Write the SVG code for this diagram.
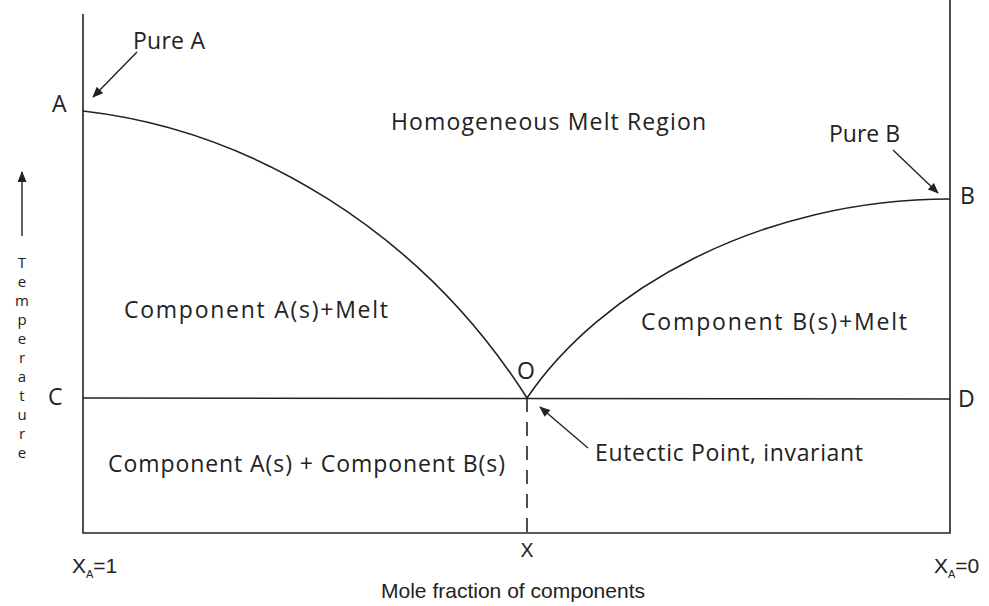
<svg xmlns="http://www.w3.org/2000/svg" width="989" height="606" viewBox="0 0 989 606">
<defs>
<marker id="ah" viewBox="0 0 12 10" refX="11" refY="5" markerWidth="12" markerHeight="9" markerUnits="userSpaceOnUse" orient="auto">
<path d="M0,0 L12,5 L0,10 z" fill="#222"/>
</marker>
<style>
.ln{stroke:#222;stroke-width:1.6;fill:none}
.ar{stroke:#222;stroke-width:1.4;fill:none;marker-end:url(#ah)}
.t{font-family:"Open Sans","Liberation Sans",sans-serif;font-size:23px;fill:#222}
.c{font-family:"Liberation Sans","Open Sans",sans-serif;font-size:21px;fill:#222}
.v{font-family:"Open Sans","Liberation Sans",sans-serif;font-size:15px;fill:#222;text-anchor:middle}
</style>
</defs>
<rect width="989" height="606" fill="#fff"/>
<g id="axes">
<path class="ln" d="M83,14 V533 H950 V0"/>
</g>
<g id="connectors">
<path class="ln" d="M83,111 C250,130 420,230 527,398"/>
<path class="ln" d="M527,398 C600,290 760,199 950,199"/>
<path class="ln" d="M83,398 L950,399"/>
<path class="ln" d="M527,398 V533" stroke-dasharray="14,10"/>
<path class="ar" d="M137,52 L93,97"/>
<path class="ar" d="M893,150 L938,193"/>
<path class="ar" d="M588,448 L540,407"/>
<path class="ar" d="M22,236 V172"/>
</g>
<g id="labels">
<text class="t" x="52" y="112" textLength="15">A</text>
<text class="t" x="133" y="49" textLength="72">Pure A</text>
<text class="t" x="391" y="130" textLength="315">Homogeneous Melt Region</text>
<text class="t" x="829" y="142" textLength="71">Pure B</text>
<text class="t" x="960" y="204" textLength="13">B</text>
<text class="t" x="124" y="318" textLength="264">Component A(s)+Melt</text>
<text class="t" x="641" y="330" textLength="266">Component B(s)+Melt</text>
<text class="t" x="517" y="379">O</text>
<text class="t" x="48" y="405">C</text>
<text class="t" x="958" y="407">D</text>
<text class="t" x="108" y="472" textLength="397">Component A(s) + Component B(s)</text>
<text class="t" x="595" y="461" textLength="268">Eutectic Point, invariant</text>
<text class="c" x="527" y="557" text-anchor="middle" textLength="13" lengthAdjust="spacingAndGlyphs">X</text>
<text class="c" x="72" y="573">X<tspan font-size="11" dy="5">A</tspan><tspan dy="-5">=1</tspan></text>
<text class="c" x="934" y="573">X<tspan font-size="11" dy="5">A</tspan><tspan dy="-5">=0</tspan></text>
<text class="c" x="381" y="598" font-size="19" textLength="264" lengthAdjust="spacingAndGlyphs">Mole fraction of components</text>
</g>
<g id="ylabel">
<text class="v" x="22" y="268">T</text>
<text class="v" x="22" y="287">e</text>
<text class="v" x="22" y="306">m</text>
<text class="v" x="22" y="325">p</text>
<text class="v" x="22" y="344">e</text>
<text class="v" x="22" y="363">r</text>
<text class="v" x="22" y="382">a</text>
<text class="v" x="22" y="401">t</text>
<text class="v" x="22" y="420">u</text>
<text class="v" x="22" y="439">r</text>
<text class="v" x="22" y="458">e</text>
</g>
</svg>
